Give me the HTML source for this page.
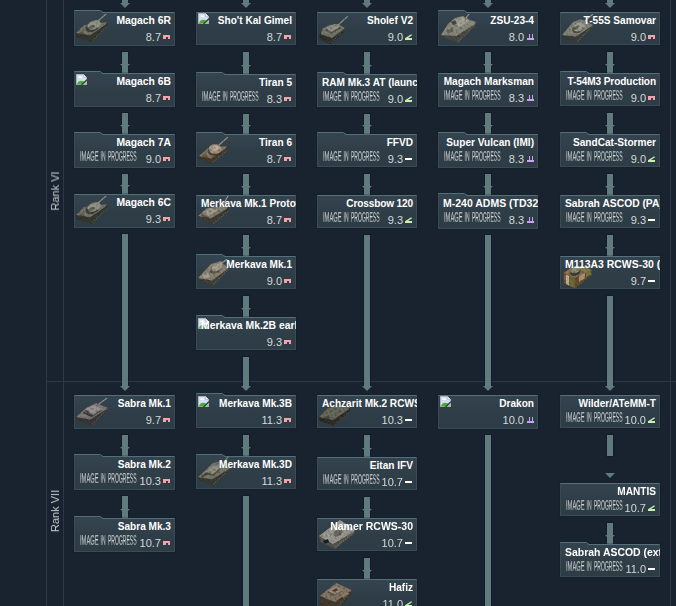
<!DOCTYPE html><html><head><meta charset="utf-8"><style>
html,body{margin:0;padding:0;width:676px;height:606px;overflow:hidden;background:#19232f;font-family:"Liberation Sans",sans-serif}
.ln{position:absolute;background:#2c3845}
.rk{position:absolute;will-change:transform;color:#c3c9cf;font-size:11px;white-space:nowrap;transform:translate(-50%,-50%) rotate(-90deg);line-height:12px}
.sh{position:absolute;background:#5f7b7d;box-shadow:0 0 0 1px rgba(10,16,24,0.4)}
.hd{position:absolute;width:0;height:0;border-left:5px solid transparent;border-right:5px solid transparent;border-top:5px solid #5f7b7d}
.card{position:absolute;box-sizing:border-box;height:34px;border:1px solid #394c56;border-top-color:#54717b;background:linear-gradient(180deg,#34444e 0%,#2f3d47 55%,#2e3c45 100%);box-shadow:0 0 0 1px rgba(12,18,26,0.2)}
.tab{position:absolute;width:30px;height:3px;background:#53707a;clip-path:polygon(0 0,26px 0,30px 100%,0 100%)}
.nm{position:absolute;left:4px;right:-1px;top:1px;padding-right:4px;height:13px;overflow:hidden;white-space:nowrap;text-align:right;color:#fff;font-weight:bold;font-size:10.1px;line-height:13px}
.br{position:absolute;right:13px;top:18px;height:13px;white-space:nowrap;color:#d3d9dc;font-size:11px;line-height:13px;letter-spacing:0px}
.ic{position:absolute;right:4px}
.tb{position:absolute;left:-1px;top:-3px}
.bk{position:absolute;left:1px;top:0px}
.iip{position:absolute;left:4px;top:15px;will-change:transform}
.veh{position:absolute;left:-1px;top:-1px;overflow:visible}
</style></head><body>

<svg width="0" height="0" style="position:absolute"><defs><filter id="tex" x="0" y="0" width="1" height="1"><feTurbulence type="fractalNoise" baseFrequency="0.45" numOctaves="1" seed="5" result="n"/><feColorMatrix in="n" type="matrix" values="0 0 0 0 0  0 0 0 0 0  0 0 0 0 0  0 0 0 -1.3 0.75" result="d"/><feComposite in="d" in2="SourceAlpha" operator="in" result="dm"/><feMerge result="m"><feMergeNode in="SourceGraphic"/><feMergeNode in="dm"/></feMerge><feComponentTransfer in="m"><feFuncR type="linear" slope="0.9"/><feFuncG type="linear" slope="0.9"/><feFuncB type="linear" slope="0.9"/></feComponentTransfer></filter><g id="veh_magach" filter="url(#tex)"><polygon points="2,21 10,13 33,10 34,13 18,30 3,25" fill="#3a3c34"/><line x1="18.5" y1="28.4" x2="33.2" y2="14.2" stroke="#7a7c6e" stroke-width="1.3" stroke-dasharray="1.2 1.3" opacity="0.55"/><polygon points="2,21 10,13 33,10 31,13 16,23.5" fill="#7a7c6e"/><ellipse cx="18.5" cy="15" rx="7.5" ry="4.5" transform="rotate(-22 18.5 15)" fill="#3a3c34" opacity="0.8"/><ellipse cx="20" cy="13" rx="7" ry="4.3" transform="rotate(-22 20 13)" fill="#9a9c8d"/><ellipse cx="18" cy="15" rx="3.5" ry="1.6" transform="rotate(-22 18 15)" fill="#3a3c34" opacity="0.5"/><polygon points="5,21 9,19 11,23 7,25" fill="#3a3c34" opacity="0.45"/><path d="M24 9L32 2" stroke="#9a9c8d" stroke-width="1.1" stroke-linecap="round"/></g><g id="veh_tiran" filter="url(#tex)"><polygon points="3,22 12,14 31,12 32,15 16,30 4,25" fill="#4a3f33"/><line x1="16.5" y1="28.4" x2="31.2" y2="16.2" stroke="#8f806b" stroke-width="1.3" stroke-dasharray="1.2 1.3" opacity="0.55"/><polygon points="3,22 12,14 31,12 29,15 15,24.5" fill="#8f806b"/><ellipse cx="18" cy="17" rx="6.5" ry="5" fill="#4a3f33" opacity="0.8"/><ellipse cx="19" cy="15" rx="6.3" ry="4.8" fill="#ad9f88"/><ellipse cx="20" cy="14" rx="3.2" ry="2.3" fill="#c6baa4"/><polygon points="6,21 10,19 12,23 8,25" fill="#4a3f33" opacity="0.45"/><path d="M23 11L32 3" stroke="#ad9f88" stroke-width="1.1" stroke-linecap="round"/></g><g id="veh_merkava" filter="url(#tex)"><polygon points="2,21 11,13 32,11 33,15 17,30 3,23" fill="#46423a"/><line x1="17.5" y1="28.4" x2="32.2" y2="16.2" stroke="#8c877a" stroke-width="1.3" stroke-dasharray="1.2 1.3" opacity="0.55"/><polygon points="2,21 11,13 32,11 31,13.5 15,23.5" fill="#8c877a"/><polygon points="7,17 15,13 22,15 13,21" fill="#a8a292"/><polygon points="6,19 13,22 12,24 5,21" fill="#46423a" opacity="0.6"/><path d="M27 10L32 1" stroke="#a8a292" stroke-width="1.1" stroke-linecap="round"/></g><g id="veh_merkava1" filter="url(#tex)"><polygon points="2,22 15,8 25,5 33,12 17,30 3,24" fill="#4a463c"/><line x1="17.5" y1="28.4" x2="32.2" y2="13.2" stroke="#928c7d" stroke-width="1.3" stroke-dasharray="1.2 1.3" opacity="0.55"/><polygon points="2,22 15,8 25,5 32,12.5 16,24.5" fill="#928c7d"/><ellipse cx="20" cy="13" rx="6.5" ry="3.8" transform="rotate(-30 20 13)" fill="#4a463c" opacity="0.7"/><ellipse cx="21" cy="11" rx="6" ry="3.5" transform="rotate(-30 21 11)" fill="#aea897"/><polygon points="6,19 12,17 14,21 8,23" fill="#b8b2a2" opacity="0.7"/><path d="M26 7L31 3" stroke="#aea897" stroke-width="1.1" stroke-linecap="round"/></g><g id="veh_sholef" filter="url(#tex)"><polygon points="2,25 5,17 12,13 21,12 28,16 27,20 14,32 2,27" fill="#36372f"/><line x1="14.5" y1="30.4" x2="27.2" y2="17.2" stroke="#808175" stroke-width="1.3" stroke-dasharray="1.2 1.3" opacity="0.55"/><polygon points="5,17 12,13 21,12 28,16 15,26 4,22" fill="#808175"/><polygon points="8,18 18,13 24,16 14,22" fill="#36372f" opacity="0.5"/><polygon points="9,16 18,12 23,15 14,20" fill="#9b9c8f"/><path d="M19 15L31 4" stroke="#9b9c8f" stroke-width="1.1" stroke-linecap="round"/></g><g id="veh_zsu" filter="url(#tex)"><polygon points="3,23 10,12 17,6 25,4 32,8 38,10 37,15 20,31 3,25" fill="#4e4f46"/><line x1="20.5" y1="29.4" x2="37.2" y2="11.2" stroke="#929387" stroke-width="1.3" stroke-dasharray="1.2 1.3" opacity="0.55"/><polygon points="3,23 10,12 17,6 25,4 32,8 38,10 36,13 18,24" fill="#929387"/><polygon points="14,9 24,5 31,9 21,15" fill="#acad9f"/><polygon points="13,10 17,8 19,12 15,13" fill="#4e4f46"/><polygon points="8,19 14,16 16,19 10,22" fill="#4e4f46" opacity="0.6"/><path d="M28 6L31 2" stroke="#acad9f" stroke-width="1.1" stroke-linecap="round"/></g><g id="veh_t55" filter="url(#tex)"><polygon points="2,23 13,10 21,7 33,13 32,16 17,31 3,26" fill="#43453c"/><line x1="17.5" y1="29.4" x2="32.2" y2="14.2" stroke="#8a8c80" stroke-width="1.3" stroke-dasharray="1.2 1.3" opacity="0.55"/><polygon points="2,23 13,10 21,7 33,13 31,14.5 16,24.5" fill="#8a8c80"/><ellipse cx="18" cy="16.5" rx="6.3" ry="4.2" transform="rotate(-25 18 16.5)" fill="#43453c" opacity="0.7"/><ellipse cx="19" cy="15" rx="6" ry="4" transform="rotate(-25 19 15)" fill="#a4a699"/><ellipse cx="16" cy="16" rx="3" ry="1.6" transform="rotate(-25 16 16)" fill="#43453c" opacity="0.6"/><path d="M25 9L33 2" stroke="#a4a699" stroke-width="1.1" stroke-linecap="round"/></g><g id="veh_m113" filter="url(#tex)"><polygon points="3.5,17 12,11 22,10 32,14 32,19 15,32.5 4,27" fill="#4e3d2c"/><polygon points="3.5,17 12,11 22,10 32,14 15,22" fill="#9a7a56"/><polygon points="3.5,17 15,22 15,32.5 4,27" fill="#82633f"/><polygon points="6,18.5 9,20 9,29.5 6,28" fill="#cdbd9e"/><polygon points="10.5,20.5 13.5,21.7 13.5,31.5 10.5,30" fill="#6f7d46" opacity="0.9"/><polygon points="15,22 32,14 32,19 15,32.5" fill="#6d5234"/><polygon points="19,20 25,17 25,22 19,26" fill="#c0b08a" opacity="0.8"/><polygon points="26,16.5 31,14.5 31,18.5 26,21" fill="#7e8a52" opacity="0.8"/><polygon points="20,14 27,12 30,14 22,17" fill="#7e8a52" opacity="0.8"/><ellipse cx="15.5" cy="16" rx="5.5" ry="3.5" transform="rotate(-20 15.5 16)" fill="#3a3f34"/><ellipse cx="15.5" cy="13.8" rx="5" ry="3.2" transform="rotate(-20 15.5 13.8)" fill="#8d9a7c"/></g><g id="veh_sabra" filter="url(#tex)"><polygon points="2,22 12,13 22,8 34,13 33,16 18,31 4,25" fill="#403c3c"/><line x1="18.5" y1="29.4" x2="33.2" y2="14.2" stroke="#858080" stroke-width="1.3" stroke-dasharray="1.2 1.3" opacity="0.55"/><polygon points="2,22 12,13 22,8 34,13 32,14.5 16,24.5" fill="#858080"/><polygon points="10,16 20,12 28,16 18,22" fill="#403c3c" opacity="0.7"/><polygon points="11,14 20,10 28,14 19,20" fill="#a09a9a"/><polygon points="10,17 19,21 17,22 9,18" fill="#403c3c"/><path d="M25 9L33 3" stroke="#a09a9a" stroke-width="1.1" stroke-linecap="round"/></g><g id="veh_merkava3" filter="url(#tex)"><polygon points="2,21 17,7 25,5 34,12 33,15 17,30 3,24" fill="#404138"/><line x1="17.5" y1="28.4" x2="33.2" y2="13.2" stroke="#7f8073" stroke-width="1.3" stroke-dasharray="1.2 1.3" opacity="0.55"/><polygon points="2,21 17,7 25,5 34,12 32,13.5 16,23.5" fill="#7f8073"/><polygon points="9,18 18,11 25,13 17,20" fill="#404138" opacity="0.6"/><polygon points="9,16 18,9 25,11 17,18" fill="#97988a"/><polygon points="5,20 12,16 13,18 6,22" fill="#404138" opacity="0.7"/><path d="M28 6L32 1" stroke="#97988a" stroke-width="1.1" stroke-linecap="round"/></g><g id="veh_achzarit" filter="url(#tex)"><polygon points="2,22 11,13 20,11 33,12 33,16 17,31 3,26" fill="#34342d"/><line x1="17.5" y1="29.4" x2="32.2" y2="17.2" stroke="#6f6f63" stroke-width="1.3" stroke-dasharray="1.2 1.3" opacity="0.55"/><polygon points="2,22 11,13 20,11 33,12 31,15 16,25" fill="#6f6f63"/><ellipse cx="19" cy="15" rx="4" ry="2.5" fill="#66735f"/><polygon points="6,23 12,20 13,23 7,26" fill="#34342d" opacity="0.5"/></g><g id="veh_namer" filter="url(#tex)"><polygon points="2,18 23,2 38,12 37,16 18,31 3,24" fill="#5a5a53"/><line x1="18.5" y1="29.4" x2="37.2" y2="13.2" stroke="#a3a39b" stroke-width="1.3" stroke-dasharray="1.2 1.3" opacity="0.55"/><polygon points="2,18 23,2 38,12 36,14 16,26" fill="#a3a39b"/><ellipse cx="21" cy="15" rx="5" ry="3" transform="rotate(-30 21 15)" fill="#5a5a53" opacity="0.7"/><polygon points="6,23 11,21 12,24 8,26" fill="#1e2a30"/><polygon points="25,4 36,12 34,13 24,6" fill="#c0c0b8" opacity="0.6"/></g><g id="veh_hafiz" filter="url(#tex)"><polygon points="3,17 10,11 19.5,4 34.5,11 34,17 20,30 3,30" fill="#4a4036"/><line x1="20.5" y1="28.4" x2="33.7" y2="12.2" stroke="#8c7d6c" stroke-width="1.3" stroke-dasharray="1.2 1.3" opacity="0.55"/><polygon points="3,17 10,11 19.5,4 34.5,11 18,23" fill="#8c7d6c"/><polygon points="10,13 19,8 26,12 17,17" fill="#4a4036" opacity="0.6"/><polygon points="11,12 19,7 26,11 18,15.5" fill="#a69683"/><polygon points="15,11.5 19,9.5 21.5,11 17.5,13" fill="#4a4036"/><polygon points="4,19 9,21 9,29 4,28" fill="#4a4036" opacity="0.45"/><polygon points="25,17 31,13 32,15 26,19" fill="#c8c0a0" opacity="0.5"/></g></defs></svg>
<div class="ln" style="left:46px;top:0;width:1px;height:606px"></div>
<div class="ln" style="left:63px;top:0;width:1px;height:606px"></div>
<div class="ln" style="left:670px;top:0;width:1px;height:606px"></div>
<div class="ln" style="left:46px;top:381px;width:630px;height:1px"></div>
<div class="rk" style="left:55px;top:191px">Rank VI</div>
<div class="rk" style="left:55px;top:511px">Rank VII</div>
<div class="sh" style="left:122px;top:-2px;width:6px;height:5px"></div>
<div class="hd" style="left:120px;top:3px"></div>
<div class="sh" style="left:243px;top:-2px;width:6px;height:5px"></div>
<div class="hd" style="left:241px;top:3px"></div>
<div class="sh" style="left:364px;top:-2px;width:6px;height:5px"></div>
<div class="hd" style="left:362px;top:3px"></div>
<div class="sh" style="left:485px;top:-2px;width:6px;height:5px"></div>
<div class="hd" style="left:483px;top:3px"></div>
<div class="sh" style="left:607px;top:-2px;width:6px;height:5px"></div>
<div class="hd" style="left:605px;top:3px"></div>

<div class="sh" style="left:122px;top:52px;width:6px;height:21px"></div>
<div class="hd" style="left:120px;top:64px"></div>

<div class="sh" style="left:122px;top:113px;width:6px;height:21px"></div>
<div class="hd" style="left:120px;top:125px"></div>

<div class="sh" style="left:122px;top:174px;width:6px;height:20px"></div>
<div class="hd" style="left:120px;top:185px"></div>

<div class="sh" style="left:243px;top:52px;width:6px;height:22px"></div>
<div class="hd" style="left:241px;top:65px"></div>

<div class="sh" style="left:243px;top:114px;width:6px;height:20px"></div>
<div class="hd" style="left:241px;top:125px"></div>

<div class="sh" style="left:243px;top:174px;width:6px;height:21px"></div>
<div class="hd" style="left:241px;top:186px"></div>

<div class="sh" style="left:243px;top:235px;width:6px;height:21px"></div>
<div class="hd" style="left:241px;top:247px"></div>

<div class="sh" style="left:243px;top:296px;width:6px;height:21px"></div>
<div class="hd" style="left:241px;top:308px"></div>

<div class="sh" style="left:364px;top:52px;width:6px;height:22px"></div>
<div class="hd" style="left:362px;top:65px"></div>

<div class="sh" style="left:364px;top:114px;width:6px;height:20px"></div>
<div class="hd" style="left:362px;top:125px"></div>

<div class="sh" style="left:364px;top:174px;width:6px;height:21px"></div>
<div class="hd" style="left:362px;top:186px"></div>

<div class="sh" style="left:485px;top:52px;width:6px;height:21px"></div>
<div class="hd" style="left:483px;top:64px"></div>

<div class="sh" style="left:485px;top:113px;width:6px;height:21px"></div>
<div class="hd" style="left:483px;top:125px"></div>

<div class="sh" style="left:485px;top:174px;width:6px;height:21px"></div>
<div class="hd" style="left:483px;top:186px"></div>

<div class="sh" style="left:607px;top:52px;width:6px;height:21px"></div>
<div class="hd" style="left:605px;top:64px"></div>

<div class="sh" style="left:607px;top:113px;width:6px;height:21px"></div>
<div class="hd" style="left:605px;top:125px"></div>

<div class="sh" style="left:607px;top:174px;width:6px;height:21px"></div>
<div class="hd" style="left:605px;top:186px"></div>

<div class="sh" style="left:607px;top:235px;width:6px;height:21px"></div>
<div class="hd" style="left:605px;top:247px"></div>
<div class="sh" style="left:122px;top:234px;width:6px;height:152px"></div>
<div class="hd" style="left:120px;top:386px"></div>
<div class="sh" style="left:243px;top:357px;width:6px;height:29px"></div>
<div class="hd" style="left:241px;top:386px"></div>
<div class="sh" style="left:364px;top:235px;width:6px;height:151px"></div>
<div class="hd" style="left:362px;top:386px"></div>
<div class="sh" style="left:485px;top:235px;width:6px;height:151px"></div>
<div class="hd" style="left:483px;top:386px"></div>
<div class="sh" style="left:607px;top:296px;width:6px;height:90px"></div>
<div class="hd" style="left:605px;top:386px"></div>
<div class="sh" style="left:122px;top:435px;width:6px;height:21px"></div>
<div class="hd" style="left:120px;top:447px"></div>
<div class="sh" style="left:122px;top:496px;width:6px;height:22px"></div>
<div class="hd" style="left:120px;top:509px"></div>
<div class="sh" style="left:364px;top:435px;width:6px;height:22px"></div>
<div class="hd" style="left:362px;top:448px"></div>
<div class="sh" style="left:364px;top:497px;width:6px;height:21px"></div>
<div class="hd" style="left:362px;top:509px"></div>
<div class="sh" style="left:364px;top:558px;width:6px;height:21px"></div>
<div class="hd" style="left:362px;top:570px"></div>
<div class="sh" style="left:243px;top:435px;width:6px;height:21px"></div>
<div class="hd" style="left:241px;top:447px"></div>
<div class="sh" style="left:243px;top:496px;width:6px;height:124px"></div>
<div class="sh" style="left:485px;top:435px;width:6px;height:185px"></div>
<div class="sh" style="left:607px;top:435px;width:6px;height:21px"></div>
<div class="hd" style="left:605px;top:473px"></div>
<div class="sh" style="left:607px;top:523px;width:6px;height:21px"></div>
<div class="hd" style="left:605px;top:535px"></div>
<div class="card" style="left:74px;top:12px;width:101px;height:34px"><svg class="tb" width="32" height="4" viewBox="0 0 32 4"><path d="M0 1H26L29 3H32V4H0Z" fill="#34444e"/><path d="M0 0.5H26.2L29.2 2.5H32" fill="none" stroke="#53707a" stroke-width="1"/><path d="M0.5 0.5V4" stroke="#3a4e58" stroke-width="1"/></svg><svg class="veh" width="40" height="34" viewBox="0 0 40 34"><use href="#veh_magach"/></svg><div class="nm" style="font-size:10.35px">Magach 6R</div><div class="br">8.7</div><svg class="ic" width="7" height="4" viewBox="0 0 7 4" style="top:22px"><path d="M0 0H7V4H5V2H3V4H0Z" fill="#f2a3ab"/></svg></div>
<div class="card" style="left:74px;top:73px;width:101px;height:34px"><svg class="tb" width="32" height="4" viewBox="0 0 32 4"><path d="M0 1H26L29 3H32V4H0Z" fill="#34444e"/><path d="M0 0.5H26.2L29.2 2.5H32" fill="none" stroke="#53707a" stroke-width="1"/><path d="M0.5 0.5V4" stroke="#3a4e58" stroke-width="1"/></svg><svg class="bk" width="11" height="11" viewBox="0 0 11 11"><path d="M0.5 0.5H7.5L10.5 3.5V10.5H0.5Z" fill="#d2e0f5" stroke="#b5b5b5" stroke-width="1"/><path d="M2.5 3.2H6" stroke="#ffffff" stroke-width="1.4"/><path d="M1 10.5C1.3 7.2 4.8 5.6 8.2 7.6L6.2 10.5Z" fill="#4aae28"/><path d="M8 8.3L10.5 7.6V10.5H6.8Z" fill="#8cc878" opacity="0.7"/><path d="M7.5 0.5V3.5H10.5" fill="#f2f2f2" stroke="#bdbdbd" stroke-width="0.8"/><path d="M5.6 11L10.9 5.7" stroke="#26343c" stroke-width="1.2"/></svg><div class="nm" style="font-size:10.35px">Magach 6B</div><div class="br">8.7</div><svg class="ic" width="7" height="4" viewBox="0 0 7 4" style="top:22px"><path d="M0 0H7V4H5V2H3V4H0Z" fill="#f2a3ab"/></svg></div>
<div class="card" style="left:74px;top:134px;width:101px;height:34px"><svg class="tb" width="32" height="4" viewBox="0 0 32 4"><path d="M0 1H26L29 3H32V4H0Z" fill="#34444e"/><path d="M0 0.5H26.2L29.2 2.5H32" fill="none" stroke="#53707a" stroke-width="1"/><path d="M0.5 0.5V4" stroke="#3a4e58" stroke-width="1"/></svg><svg class="iip" width="60" height="12" viewBox="0 0 60 12"><defs><linearGradient id="ig" x1="0" x2="0" y1="0" y2="1"><stop offset="0" stop-color="#8a9395"/><stop offset="0.5" stop-color="#d0d6d7"/><stop offset="1" stop-color="#7d8587"/></linearGradient></defs><g font-family="Liberation Sans" font-size="14" fill="url(#ig)" stroke="url(#ig)" stroke-width="0.15"><text x="1" y="10.5" textLength="18.5" lengthAdjust="spacingAndGlyphs">IMAGE</text><text x="21.6" y="10.5" textLength="5" lengthAdjust="spacingAndGlyphs">IN</text><text x="29" y="10.5" textLength="28.5" lengthAdjust="spacingAndGlyphs">PROGRESS</text></g></svg><div class="nm" style="font-size:10.35px">Magach 7A</div><div class="br">9.0</div><svg class="ic" width="7" height="4" viewBox="0 0 7 4" style="top:22px"><path d="M0 0H7V4H5V2H3V4H0Z" fill="#f2a3ab"/></svg></div>
<div class="card" style="left:74px;top:194px;width:101px;height:34px"><svg class="veh" width="40" height="34" viewBox="0 0 40 34"><use href="#veh_magach"/></svg><div class="nm" style="font-size:10.35px">Magach 6C</div><div class="br">9.3</div><svg class="ic" width="7" height="4" viewBox="0 0 7 4" style="top:22px"><path d="M0 0H7V4H5V2H3V4H0Z" fill="#f2a3ab"/></svg></div>
<div class="card" style="left:196px;top:12px;width:100px;height:33px"><svg class="bk" width="11" height="11" viewBox="0 0 11 11"><path d="M0.5 0.5H7.5L10.5 3.5V10.5H0.5Z" fill="#d2e0f5" stroke="#b5b5b5" stroke-width="1"/><path d="M2.5 3.2H6" stroke="#ffffff" stroke-width="1.4"/><path d="M1 10.5C1.3 7.2 4.8 5.6 8.2 7.6L6.2 10.5Z" fill="#4aae28"/><path d="M8 8.3L10.5 7.6V10.5H6.8Z" fill="#8cc878" opacity="0.7"/><path d="M7.5 0.5V3.5H10.5" fill="#f2f2f2" stroke="#bdbdbd" stroke-width="0.8"/><path d="M5.6 11L10.9 5.7" stroke="#26343c" stroke-width="1.2"/></svg><div class="nm">Sho&#39;t Kal Gimel</div><div class="br">8.7</div><svg class="ic" width="7" height="4" viewBox="0 0 7 4" style="top:22px"><path d="M0 0H7V4H5V2H3V4H0Z" fill="#f2a3ab"/></svg></div>
<div class="card" style="left:196px;top:74px;width:100px;height:33px"><svg class="tb" width="32" height="4" viewBox="0 0 32 4"><path d="M0 1H26L29 3H32V4H0Z" fill="#34444e"/><path d="M0 0.5H26.2L29.2 2.5H32" fill="none" stroke="#53707a" stroke-width="1"/><path d="M0.5 0.5V4" stroke="#3a4e58" stroke-width="1"/></svg><svg class="iip" width="60" height="12" viewBox="0 0 60 12"><defs><linearGradient id="ig" x1="0" x2="0" y1="0" y2="1"><stop offset="0" stop-color="#8a9395"/><stop offset="0.5" stop-color="#d0d6d7"/><stop offset="1" stop-color="#7d8587"/></linearGradient></defs><g font-family="Liberation Sans" font-size="14" fill="url(#ig)" stroke="url(#ig)" stroke-width="0.15"><text x="1" y="10.5" textLength="18.5" lengthAdjust="spacingAndGlyphs">IMAGE</text><text x="21.6" y="10.5" textLength="5" lengthAdjust="spacingAndGlyphs">IN</text><text x="29" y="10.5" textLength="28.5" lengthAdjust="spacingAndGlyphs">PROGRESS</text></g></svg><div class="nm">Tiran 5</div><div class="br">8.3</div><svg class="ic" width="7" height="4" viewBox="0 0 7 4" style="top:22px"><path d="M0 0H7V4H5V2H3V4H0Z" fill="#f2a3ab"/></svg></div>
<div class="card" style="left:196px;top:134px;width:100px;height:33px"><svg class="tb" width="32" height="4" viewBox="0 0 32 4"><path d="M0 1H26L29 3H32V4H0Z" fill="#34444e"/><path d="M0 0.5H26.2L29.2 2.5H32" fill="none" stroke="#53707a" stroke-width="1"/><path d="M0.5 0.5V4" stroke="#3a4e58" stroke-width="1"/></svg><svg class="veh" width="40" height="34" viewBox="0 0 40 34"><use href="#veh_tiran"/></svg><div class="nm">Tiran 6</div><div class="br">8.7</div><svg class="ic" width="7" height="4" viewBox="0 0 7 4" style="top:22px"><path d="M0 0H7V4H5V2H3V4H0Z" fill="#f2a3ab"/></svg></div>
<div class="card" style="left:196px;top:195px;width:100px;height:33px"><svg class="veh" width="40" height="34" viewBox="0 0 40 34"><use href="#veh_merkava"/></svg><div class="nm">Merkava Mk.1 Prototype</div><div class="br">8.7</div><svg class="ic" width="7" height="4" viewBox="0 0 7 4" style="top:22px"><path d="M0 0H7V4H5V2H3V4H0Z" fill="#f2a3ab"/></svg></div>
<div class="card" style="left:196px;top:256px;width:100px;height:33px"><svg class="tb" width="32" height="4" viewBox="0 0 32 4"><path d="M0 1H26L29 3H32V4H0Z" fill="#34444e"/><path d="M0 0.5H26.2L29.2 2.5H32" fill="none" stroke="#53707a" stroke-width="1"/><path d="M0.5 0.5V4" stroke="#3a4e58" stroke-width="1"/></svg><svg class="veh" width="40" height="34" viewBox="0 0 40 34"><use href="#veh_merkava1"/></svg><div class="nm">Merkava Mk.1</div><div class="br">9.0</div><svg class="ic" width="7" height="4" viewBox="0 0 7 4" style="top:22px"><path d="M0 0H7V4H5V2H3V4H0Z" fill="#f2a3ab"/></svg></div>
<div class="card" style="left:196px;top:317px;width:100px;height:33px"><svg class="tb" width="32" height="4" viewBox="0 0 32 4"><path d="M0 1H26L29 3H32V4H0Z" fill="#34444e"/><path d="M0 0.5H26.2L29.2 2.5H32" fill="none" stroke="#53707a" stroke-width="1"/><path d="M0.5 0.5V4" stroke="#3a4e58" stroke-width="1"/></svg><svg class="bk" width="11" height="11" viewBox="0 0 11 11"><path d="M0.5 0.5H7.5L10.5 3.5V10.5H0.5Z" fill="#d2e0f5" stroke="#b5b5b5" stroke-width="1"/><path d="M2.5 3.2H6" stroke="#ffffff" stroke-width="1.4"/><path d="M1 10.5C1.3 7.2 4.8 5.6 8.2 7.6L6.2 10.5Z" fill="#4aae28"/><path d="M8 8.3L10.5 7.6V10.5H6.8Z" fill="#8cc878" opacity="0.7"/><path d="M7.5 0.5V3.5H10.5" fill="#f2f2f2" stroke="#bdbdbd" stroke-width="0.8"/><path d="M5.6 11L10.9 5.7" stroke="#26343c" stroke-width="1.2"/></svg><div class="nm" style="font-size:10.4px">Merkava Mk.2B early</div><div class="br">9.3</div><svg class="ic" width="7" height="4" viewBox="0 0 7 4" style="top:22px"><path d="M0 0H7V4H5V2H3V4H0Z" fill="#f2a3ab"/></svg></div>
<div class="card" style="left:317px;top:12px;width:100px;height:33px"><svg class="veh" width="40" height="34" viewBox="0 0 40 34"><use href="#veh_sholef"/></svg><div class="nm">Sholef V2</div><div class="br">9.0</div><svg class="ic" width="7" height="6" viewBox="0 0 7 6" style="top:21px"><path d="M0 4.2L6.2 0.3L7 1.3L3 4H7V6H0Z" fill="#c6efb2"/></svg></div>
<div class="card" style="left:317px;top:74px;width:100px;height:33px"><svg class="tb" width="32" height="4" viewBox="0 0 32 4"><path d="M0 1H26L29 3H32V4H0Z" fill="#34444e"/><path d="M0 0.5H26.2L29.2 2.5H32" fill="none" stroke="#53707a" stroke-width="1"/><path d="M0.5 0.5V4" stroke="#3a4e58" stroke-width="1"/></svg><svg class="iip" width="60" height="12" viewBox="0 0 60 12"><defs><linearGradient id="ig" x1="0" x2="0" y1="0" y2="1"><stop offset="0" stop-color="#8a9395"/><stop offset="0.5" stop-color="#d0d6d7"/><stop offset="1" stop-color="#7d8587"/></linearGradient></defs><g font-family="Liberation Sans" font-size="14" fill="url(#ig)" stroke="url(#ig)" stroke-width="0.15"><text x="1" y="10.5" textLength="18.5" lengthAdjust="spacingAndGlyphs">IMAGE</text><text x="21.6" y="10.5" textLength="5" lengthAdjust="spacingAndGlyphs">IN</text><text x="29" y="10.5" textLength="28.5" lengthAdjust="spacingAndGlyphs">PROGRESS</text></g></svg><div class="nm">RAM Mk.3 AT (launcher)</div><div class="br">9.0</div><svg class="ic" width="7" height="6" viewBox="0 0 7 6" style="top:21px"><path d="M0 4.2L6.2 0.3L7 1.3L3 4H7V6H0Z" fill="#c6efb2"/></svg></div>
<div class="card" style="left:317px;top:134px;width:100px;height:33px"><svg class="tb" width="32" height="4" viewBox="0 0 32 4"><path d="M0 1H26L29 3H32V4H0Z" fill="#34444e"/><path d="M0 0.5H26.2L29.2 2.5H32" fill="none" stroke="#53707a" stroke-width="1"/><path d="M0.5 0.5V4" stroke="#3a4e58" stroke-width="1"/></svg><svg class="iip" width="60" height="12" viewBox="0 0 60 12"><defs><linearGradient id="ig" x1="0" x2="0" y1="0" y2="1"><stop offset="0" stop-color="#8a9395"/><stop offset="0.5" stop-color="#d0d6d7"/><stop offset="1" stop-color="#7d8587"/></linearGradient></defs><g font-family="Liberation Sans" font-size="14" fill="url(#ig)" stroke="url(#ig)" stroke-width="0.15"><text x="1" y="10.5" textLength="18.5" lengthAdjust="spacingAndGlyphs">IMAGE</text><text x="21.6" y="10.5" textLength="5" lengthAdjust="spacingAndGlyphs">IN</text><text x="29" y="10.5" textLength="28.5" lengthAdjust="spacingAndGlyphs">PROGRESS</text></g></svg><div class="nm">FFVD</div><div class="br">9.3</div><svg class="ic" width="7" height="2" viewBox="0 0 7 2" style="top:23px"><rect width="7" height="2" fill="#fff"/></svg></div>
<div class="card" style="left:317px;top:195px;width:100px;height:33px"><svg class="iip" width="60" height="12" viewBox="0 0 60 12"><defs><linearGradient id="ig" x1="0" x2="0" y1="0" y2="1"><stop offset="0" stop-color="#8a9395"/><stop offset="0.5" stop-color="#d0d6d7"/><stop offset="1" stop-color="#7d8587"/></linearGradient></defs><g font-family="Liberation Sans" font-size="14" fill="url(#ig)" stroke="url(#ig)" stroke-width="0.15"><text x="1" y="10.5" textLength="18.5" lengthAdjust="spacingAndGlyphs">IMAGE</text><text x="21.6" y="10.5" textLength="5" lengthAdjust="spacingAndGlyphs">IN</text><text x="29" y="10.5" textLength="28.5" lengthAdjust="spacingAndGlyphs">PROGRESS</text></g></svg><div class="nm" style="font-size:10.1px;letter-spacing:-0.15px">Crossbow 120</div><div class="br">9.3</div><svg class="ic" width="7" height="6" viewBox="0 0 7 6" style="top:21px"><path d="M0 4.2L6.2 0.3L7 1.3L3 4H7V6H0Z" fill="#c6efb2"/></svg></div>
<div class="card" style="left:438px;top:12px;width:100px;height:34px"><svg class="tb" width="32" height="4" viewBox="0 0 32 4"><path d="M0 1H26L29 3H32V4H0Z" fill="#34444e"/><path d="M0 0.5H26.2L29.2 2.5H32" fill="none" stroke="#53707a" stroke-width="1"/><path d="M0.5 0.5V4" stroke="#3a4e58" stroke-width="1"/></svg><svg class="veh" width="40" height="34" viewBox="0 0 40 34"><use href="#veh_zsu"/></svg><div class="nm">ZSU-23-4</div><div class="br">8.0</div><svg class="ic" width="7" height="6" viewBox="0 0 7 6" style="right:3px;top:21px"><path d="M2 0H3V4H5V0H6V4H7V6H0V4H2Z" fill="#c9a2f2"/></svg></div>
<div class="card" style="left:438px;top:73px;width:100px;height:34px"><svg class="iip" width="60" height="12" viewBox="0 0 60 12"><defs><linearGradient id="ig" x1="0" x2="0" y1="0" y2="1"><stop offset="0" stop-color="#8a9395"/><stop offset="0.5" stop-color="#d0d6d7"/><stop offset="1" stop-color="#7d8587"/></linearGradient></defs><g font-family="Liberation Sans" font-size="14" fill="url(#ig)" stroke="url(#ig)" stroke-width="0.15"><text x="1" y="10.5" textLength="18.5" lengthAdjust="spacingAndGlyphs">IMAGE</text><text x="21.6" y="10.5" textLength="5" lengthAdjust="spacingAndGlyphs">IN</text><text x="29" y="10.5" textLength="28.5" lengthAdjust="spacingAndGlyphs">PROGRESS</text></g></svg><div class="nm">Magach Marksman</div><div class="br">8.3</div><svg class="ic" width="7" height="6" viewBox="0 0 7 6" style="right:3px;top:21px"><path d="M2 0H3V4H5V0H6V4H7V6H0V4H2Z" fill="#c9a2f2"/></svg></div>
<div class="card" style="left:438px;top:134px;width:100px;height:34px"><svg class="tb" width="32" height="4" viewBox="0 0 32 4"><path d="M0 1H26L29 3H32V4H0Z" fill="#34444e"/><path d="M0 0.5H26.2L29.2 2.5H32" fill="none" stroke="#53707a" stroke-width="1"/><path d="M0.5 0.5V4" stroke="#3a4e58" stroke-width="1"/></svg><svg class="iip" width="60" height="12" viewBox="0 0 60 12"><defs><linearGradient id="ig" x1="0" x2="0" y1="0" y2="1"><stop offset="0" stop-color="#8a9395"/><stop offset="0.5" stop-color="#d0d6d7"/><stop offset="1" stop-color="#7d8587"/></linearGradient></defs><g font-family="Liberation Sans" font-size="14" fill="url(#ig)" stroke="url(#ig)" stroke-width="0.15"><text x="1" y="10.5" textLength="18.5" lengthAdjust="spacingAndGlyphs">IMAGE</text><text x="21.6" y="10.5" textLength="5" lengthAdjust="spacingAndGlyphs">IN</text><text x="29" y="10.5" textLength="28.5" lengthAdjust="spacingAndGlyphs">PROGRESS</text></g></svg><div class="nm">Super Vulcan (IMI)</div><div class="br">8.3</div><svg class="ic" width="7" height="6" viewBox="0 0 7 6" style="right:3px;top:21px"><path d="M2 0H3V4H5V0H6V4H7V6H0V4H2Z" fill="#c9a2f2"/></svg></div>
<div class="card" style="left:438px;top:195px;width:100px;height:34px"><svg class="tb" width="32" height="4" viewBox="0 0 32 4"><path d="M0 1H26L29 3H32V4H0Z" fill="#34444e"/><path d="M0 0.5H26.2L29.2 2.5H32" fill="none" stroke="#53707a" stroke-width="1"/><path d="M0.5 0.5V4" stroke="#3a4e58" stroke-width="1"/></svg><svg class="iip" width="60" height="12" viewBox="0 0 60 12"><defs><linearGradient id="ig" x1="0" x2="0" y1="0" y2="1"><stop offset="0" stop-color="#8a9395"/><stop offset="0.5" stop-color="#d0d6d7"/><stop offset="1" stop-color="#7d8587"/></linearGradient></defs><g font-family="Liberation Sans" font-size="14" fill="url(#ig)" stroke="url(#ig)" stroke-width="0.15"><text x="1" y="10.5" textLength="18.5" lengthAdjust="spacingAndGlyphs">IMAGE</text><text x="21.6" y="10.5" textLength="5" lengthAdjust="spacingAndGlyphs">IN</text><text x="29" y="10.5" textLength="28.5" lengthAdjust="spacingAndGlyphs">PROGRESS</text></g></svg><div class="nm" style="font-size:10.5px">M-240 ADMS (TD32)</div><div class="br">8.3</div><svg class="ic" width="7" height="6" viewBox="0 0 7 6" style="right:3px;top:21px"><path d="M2 0H3V4H5V0H6V4H7V6H0V4H2Z" fill="#c9a2f2"/></svg></div>
<div class="card" style="left:560px;top:12px;width:100px;height:33px"><svg class="veh" width="40" height="34" viewBox="0 0 40 34"><use href="#veh_t55"/></svg><div class="nm">T-55S Samovar</div><div class="br">9.0</div><svg class="ic" width="7" height="4" viewBox="0 0 7 4" style="top:22px"><path d="M0 0H7V4H5V2H3V4H0Z" fill="#f2a3ab"/></svg></div>
<div class="card" style="left:560px;top:73px;width:100px;height:33px"><svg class="tb" width="32" height="4" viewBox="0 0 32 4"><path d="M0 1H26L29 3H32V4H0Z" fill="#34444e"/><path d="M0 0.5H26.2L29.2 2.5H32" fill="none" stroke="#53707a" stroke-width="1"/><path d="M0.5 0.5V4" stroke="#3a4e58" stroke-width="1"/></svg><svg class="iip" width="60" height="12" viewBox="0 0 60 12"><defs><linearGradient id="ig" x1="0" x2="0" y1="0" y2="1"><stop offset="0" stop-color="#8a9395"/><stop offset="0.5" stop-color="#d0d6d7"/><stop offset="1" stop-color="#7d8587"/></linearGradient></defs><g font-family="Liberation Sans" font-size="14" fill="url(#ig)" stroke="url(#ig)" stroke-width="0.15"><text x="1" y="10.5" textLength="18.5" lengthAdjust="spacingAndGlyphs">IMAGE</text><text x="21.6" y="10.5" textLength="5" lengthAdjust="spacingAndGlyphs">IN</text><text x="29" y="10.5" textLength="28.5" lengthAdjust="spacingAndGlyphs">PROGRESS</text></g></svg><div class="nm" style="font-size:10.1px;letter-spacing:-0.1px">T-54M3 Production</div><div class="br">9.0</div><svg class="ic" width="7" height="4" viewBox="0 0 7 4" style="top:22px"><path d="M0 0H7V4H5V2H3V4H0Z" fill="#f2a3ab"/></svg></div>
<div class="card" style="left:560px;top:134px;width:100px;height:33px"><svg class="tb" width="32" height="4" viewBox="0 0 32 4"><path d="M0 1H26L29 3H32V4H0Z" fill="#34444e"/><path d="M0 0.5H26.2L29.2 2.5H32" fill="none" stroke="#53707a" stroke-width="1"/><path d="M0.5 0.5V4" stroke="#3a4e58" stroke-width="1"/></svg><svg class="iip" width="60" height="12" viewBox="0 0 60 12"><defs><linearGradient id="ig" x1="0" x2="0" y1="0" y2="1"><stop offset="0" stop-color="#8a9395"/><stop offset="0.5" stop-color="#d0d6d7"/><stop offset="1" stop-color="#7d8587"/></linearGradient></defs><g font-family="Liberation Sans" font-size="14" fill="url(#ig)" stroke="url(#ig)" stroke-width="0.15"><text x="1" y="10.5" textLength="18.5" lengthAdjust="spacingAndGlyphs">IMAGE</text><text x="21.6" y="10.5" textLength="5" lengthAdjust="spacingAndGlyphs">IN</text><text x="29" y="10.5" textLength="28.5" lengthAdjust="spacingAndGlyphs">PROGRESS</text></g></svg><div class="nm">SandCat-Stormer</div><div class="br">9.0</div><svg class="ic" width="7" height="6" viewBox="0 0 7 6" style="top:21px"><path d="M0 4.2L6.2 0.3L7 1.3L3 4H7V6H0Z" fill="#c6efb2"/></svg></div>
<div class="card" style="left:560px;top:195px;width:100px;height:33px"><svg class="iip" width="60" height="12" viewBox="0 0 60 12"><defs><linearGradient id="ig" x1="0" x2="0" y1="0" y2="1"><stop offset="0" stop-color="#8a9395"/><stop offset="0.5" stop-color="#d0d6d7"/><stop offset="1" stop-color="#7d8587"/></linearGradient></defs><g font-family="Liberation Sans" font-size="14" fill="url(#ig)" stroke="url(#ig)" stroke-width="0.15"><text x="1" y="10.5" textLength="18.5" lengthAdjust="spacingAndGlyphs">IMAGE</text><text x="21.6" y="10.5" textLength="5" lengthAdjust="spacingAndGlyphs">IN</text><text x="29" y="10.5" textLength="28.5" lengthAdjust="spacingAndGlyphs">PROGRESS</text></g></svg><div class="nm" style="font-size:10.3px">Sabrah ASCOD (PA)</div><div class="br">9.3</div><svg class="ic" width="7" height="2" viewBox="0 0 7 2" style="top:23px"><rect width="7" height="2" fill="#fff"/></svg></div>
<div class="card" style="left:560px;top:256px;width:100px;height:33px"><svg class="veh" width="40" height="34" viewBox="0 0 40 34"><use href="#veh_m113"/></svg><div class="nm" style="font-size:10.45px">M113A3 RCWS-30 (IMI)</div><div class="br">9.7</div><svg class="ic" width="7" height="2" viewBox="0 0 7 2" style="top:23px"><rect width="7" height="2" fill="#fff"/></svg></div>
<div class="card" style="left:74px;top:395px;width:101px;height:34px"><svg class="veh" width="40" height="34" viewBox="0 0 40 34"><use href="#veh_sabra"/></svg><div class="nm">Sabra Mk.1</div><div class="br">9.7</div><svg class="ic" width="7" height="4" viewBox="0 0 7 4" style="top:22px"><path d="M0 0H7V4H5V2H3V4H0Z" fill="#f2a3ab"/></svg></div>
<div class="card" style="left:74px;top:456px;width:101px;height:34px"><svg class="tb" width="32" height="4" viewBox="0 0 32 4"><path d="M0 1H26L29 3H32V4H0Z" fill="#34444e"/><path d="M0 0.5H26.2L29.2 2.5H32" fill="none" stroke="#53707a" stroke-width="1"/><path d="M0.5 0.5V4" stroke="#3a4e58" stroke-width="1"/></svg><svg class="iip" width="60" height="12" viewBox="0 0 60 12"><defs><linearGradient id="ig" x1="0" x2="0" y1="0" y2="1"><stop offset="0" stop-color="#8a9395"/><stop offset="0.5" stop-color="#d0d6d7"/><stop offset="1" stop-color="#7d8587"/></linearGradient></defs><g font-family="Liberation Sans" font-size="14" fill="url(#ig)" stroke="url(#ig)" stroke-width="0.15"><text x="1" y="10.5" textLength="18.5" lengthAdjust="spacingAndGlyphs">IMAGE</text><text x="21.6" y="10.5" textLength="5" lengthAdjust="spacingAndGlyphs">IN</text><text x="29" y="10.5" textLength="28.5" lengthAdjust="spacingAndGlyphs">PROGRESS</text></g></svg><div class="nm">Sabra Mk.2</div><div class="br">10.3</div><svg class="ic" width="7" height="4" viewBox="0 0 7 4" style="top:22px"><path d="M0 0H7V4H5V2H3V4H0Z" fill="#f2a3ab"/></svg></div>
<div class="card" style="left:74px;top:518px;width:101px;height:34px"><svg class="tb" width="32" height="4" viewBox="0 0 32 4"><path d="M0 1H26L29 3H32V4H0Z" fill="#34444e"/><path d="M0 0.5H26.2L29.2 2.5H32" fill="none" stroke="#53707a" stroke-width="1"/><path d="M0.5 0.5V4" stroke="#3a4e58" stroke-width="1"/></svg><svg class="iip" width="60" height="12" viewBox="0 0 60 12"><defs><linearGradient id="ig" x1="0" x2="0" y1="0" y2="1"><stop offset="0" stop-color="#8a9395"/><stop offset="0.5" stop-color="#d0d6d7"/><stop offset="1" stop-color="#7d8587"/></linearGradient></defs><g font-family="Liberation Sans" font-size="14" fill="url(#ig)" stroke="url(#ig)" stroke-width="0.15"><text x="1" y="10.5" textLength="18.5" lengthAdjust="spacingAndGlyphs">IMAGE</text><text x="21.6" y="10.5" textLength="5" lengthAdjust="spacingAndGlyphs">IN</text><text x="29" y="10.5" textLength="28.5" lengthAdjust="spacingAndGlyphs">PROGRESS</text></g></svg><div class="nm">Sabra Mk.3</div><div class="br">10.7</div><svg class="ic" width="7" height="4" viewBox="0 0 7 4" style="top:22px"><path d="M0 0H7V4H5V2H3V4H0Z" fill="#f2a3ab"/></svg></div>
<div class="card" style="left:196px;top:395px;width:100px;height:33px"><svg class="tb" width="32" height="4" viewBox="0 0 32 4"><path d="M0 1H26L29 3H32V4H0Z" fill="#34444e"/><path d="M0 0.5H26.2L29.2 2.5H32" fill="none" stroke="#53707a" stroke-width="1"/><path d="M0.5 0.5V4" stroke="#3a4e58" stroke-width="1"/></svg><svg class="bk" width="11" height="11" viewBox="0 0 11 11"><path d="M0.5 0.5H7.5L10.5 3.5V10.5H0.5Z" fill="#d2e0f5" stroke="#b5b5b5" stroke-width="1"/><path d="M2.5 3.2H6" stroke="#ffffff" stroke-width="1.4"/><path d="M1 10.5C1.3 7.2 4.8 5.6 8.2 7.6L6.2 10.5Z" fill="#4aae28"/><path d="M8 8.3L10.5 7.6V10.5H6.8Z" fill="#8cc878" opacity="0.7"/><path d="M7.5 0.5V3.5H10.5" fill="#f2f2f2" stroke="#bdbdbd" stroke-width="0.8"/><path d="M5.6 11L10.9 5.7" stroke="#26343c" stroke-width="1.2"/></svg><div class="nm">Merkava Mk.3B</div><div class="br">11.3</div><svg class="ic" width="7" height="4" viewBox="0 0 7 4" style="top:22px"><path d="M0 0H7V4H5V2H3V4H0Z" fill="#f2a3ab"/></svg></div>
<div class="card" style="left:196px;top:456px;width:100px;height:33px"><svg class="tb" width="32" height="4" viewBox="0 0 32 4"><path d="M0 1H26L29 3H32V4H0Z" fill="#34444e"/><path d="M0 0.5H26.2L29.2 2.5H32" fill="none" stroke="#53707a" stroke-width="1"/><path d="M0.5 0.5V4" stroke="#3a4e58" stroke-width="1"/></svg><svg class="veh" width="40" height="34" viewBox="0 0 40 34"><use href="#veh_merkava3"/></svg><div class="nm">Merkava Mk.3D</div><div class="br">11.3</div><svg class="ic" width="7" height="4" viewBox="0 0 7 4" style="top:22px"><path d="M0 0H7V4H5V2H3V4H0Z" fill="#f2a3ab"/></svg></div>
<div class="card" style="left:317px;top:395px;width:100px;height:33px"><svg class="veh" width="40" height="34" viewBox="0 0 40 34"><use href="#veh_achzarit"/></svg><div class="nm">Achzarit Mk.2 RCWS</div><div class="br">10.3</div><svg class="ic" width="7" height="2" viewBox="0 0 7 2" style="top:23px"><rect width="7" height="2" fill="#fff"/></svg></div>
<div class="card" style="left:317px;top:457px;width:100px;height:33px"><svg class="iip" width="60" height="12" viewBox="0 0 60 12"><defs><linearGradient id="ig" x1="0" x2="0" y1="0" y2="1"><stop offset="0" stop-color="#8a9395"/><stop offset="0.5" stop-color="#d0d6d7"/><stop offset="1" stop-color="#7d8587"/></linearGradient></defs><g font-family="Liberation Sans" font-size="14" fill="url(#ig)" stroke="url(#ig)" stroke-width="0.15"><text x="1" y="10.5" textLength="18.5" lengthAdjust="spacingAndGlyphs">IMAGE</text><text x="21.6" y="10.5" textLength="5" lengthAdjust="spacingAndGlyphs">IN</text><text x="29" y="10.5" textLength="28.5" lengthAdjust="spacingAndGlyphs">PROGRESS</text></g></svg><div class="nm">Eitan IFV</div><div class="br">10.7</div><svg class="ic" width="7" height="2" viewBox="0 0 7 2" style="top:23px"><rect width="7" height="2" fill="#fff"/></svg></div>
<div class="card" style="left:317px;top:518px;width:100px;height:33px"><svg class="veh" width="40" height="34" viewBox="0 0 40 34"><use href="#veh_namer"/></svg><div class="nm" style="font-size:10.5px">Namer RCWS-30</div><div class="br">10.7</div><svg class="ic" width="7" height="2" viewBox="0 0 7 2" style="top:23px"><rect width="7" height="2" fill="#fff"/></svg></div>
<div class="card" style="left:317px;top:579px;width:100px;height:33px"><svg class="veh" width="40" height="34" viewBox="0 0 40 34"><use href="#veh_hafiz"/></svg><div class="nm">Hafiz</div><div class="br">11.0</div><svg class="ic" width="7" height="6" viewBox="0 0 7 6" style="top:21px"><path d="M0 4.2L6.2 0.3L7 1.3L3 4H7V6H0Z" fill="#c6efb2"/></svg></div>
<div class="card" style="left:438px;top:395px;width:100px;height:34px"><svg class="bk" width="11" height="11" viewBox="0 0 11 11"><path d="M0.5 0.5H7.5L10.5 3.5V10.5H0.5Z" fill="#d2e0f5" stroke="#b5b5b5" stroke-width="1"/><path d="M2.5 3.2H6" stroke="#ffffff" stroke-width="1.4"/><path d="M1 10.5C1.3 7.2 4.8 5.6 8.2 7.6L6.2 10.5Z" fill="#4aae28"/><path d="M8 8.3L10.5 7.6V10.5H6.8Z" fill="#8cc878" opacity="0.7"/><path d="M7.5 0.5V3.5H10.5" fill="#f2f2f2" stroke="#bdbdbd" stroke-width="0.8"/><path d="M5.6 11L10.9 5.7" stroke="#26343c" stroke-width="1.2"/></svg><div class="nm">Drakon</div><div class="br">10.0</div><svg class="ic" width="7" height="6" viewBox="0 0 7 6" style="right:3px;top:21px"><path d="M2 0H3V4H5V0H6V4H7V6H0V4H2Z" fill="#c9a2f2"/></svg></div>
<div class="card" style="left:560px;top:395px;width:100px;height:33px"><svg class="iip" width="60" height="12" viewBox="0 0 60 12"><defs><linearGradient id="ig" x1="0" x2="0" y1="0" y2="1"><stop offset="0" stop-color="#8a9395"/><stop offset="0.5" stop-color="#d0d6d7"/><stop offset="1" stop-color="#7d8587"/></linearGradient></defs><g font-family="Liberation Sans" font-size="14" fill="url(#ig)" stroke="url(#ig)" stroke-width="0.15"><text x="1" y="10.5" textLength="18.5" lengthAdjust="spacingAndGlyphs">IMAGE</text><text x="21.6" y="10.5" textLength="5" lengthAdjust="spacingAndGlyphs">IN</text><text x="29" y="10.5" textLength="28.5" lengthAdjust="spacingAndGlyphs">PROGRESS</text></g></svg><div class="nm">Wilder/ATeMM-T</div><div class="br">10.0</div><svg class="ic" width="7" height="6" viewBox="0 0 7 6" style="top:21px"><path d="M0 4.2L6.2 0.3L7 1.3L3 4H7V6H0Z" fill="#c6efb2"/></svg></div>
<div class="card" style="left:560px;top:483px;width:100px;height:33px"><svg class="iip" width="60" height="12" viewBox="0 0 60 12"><defs><linearGradient id="ig" x1="0" x2="0" y1="0" y2="1"><stop offset="0" stop-color="#8a9395"/><stop offset="0.5" stop-color="#d0d6d7"/><stop offset="1" stop-color="#7d8587"/></linearGradient></defs><g font-family="Liberation Sans" font-size="14" fill="url(#ig)" stroke="url(#ig)" stroke-width="0.15"><text x="1" y="10.5" textLength="18.5" lengthAdjust="spacingAndGlyphs">IMAGE</text><text x="21.6" y="10.5" textLength="5" lengthAdjust="spacingAndGlyphs">IN</text><text x="29" y="10.5" textLength="28.5" lengthAdjust="spacingAndGlyphs">PROGRESS</text></g></svg><div class="nm">MANTIS</div><div class="br">10.7</div><svg class="ic" width="7" height="6" viewBox="0 0 7 6" style="top:21px"><path d="M0 4.2L6.2 0.3L7 1.3L3 4H7V6H0Z" fill="#c6efb2"/></svg></div>
<div class="card" style="left:560px;top:544px;width:100px;height:33px"><svg class="tb" width="32" height="4" viewBox="0 0 32 4"><path d="M0 1H26L29 3H32V4H0Z" fill="#34444e"/><path d="M0 0.5H26.2L29.2 2.5H32" fill="none" stroke="#53707a" stroke-width="1"/><path d="M0.5 0.5V4" stroke="#3a4e58" stroke-width="1"/></svg><svg class="iip" width="60" height="12" viewBox="0 0 60 12"><defs><linearGradient id="ig" x1="0" x2="0" y1="0" y2="1"><stop offset="0" stop-color="#8a9395"/><stop offset="0.5" stop-color="#d0d6d7"/><stop offset="1" stop-color="#7d8587"/></linearGradient></defs><g font-family="Liberation Sans" font-size="14" fill="url(#ig)" stroke="url(#ig)" stroke-width="0.15"><text x="1" y="10.5" textLength="18.5" lengthAdjust="spacingAndGlyphs">IMAGE</text><text x="21.6" y="10.5" textLength="5" lengthAdjust="spacingAndGlyphs">IN</text><text x="29" y="10.5" textLength="28.5" lengthAdjust="spacingAndGlyphs">PROGRESS</text></g></svg><div class="nm" style="font-size:10.45px">Sabrah ASCOD (ext)</div><div class="br">11.0</div><svg class="ic" width="7" height="2" viewBox="0 0 7 2" style="top:23px"><rect width="7" height="2" fill="#fff"/></svg></div>
</body></html>
